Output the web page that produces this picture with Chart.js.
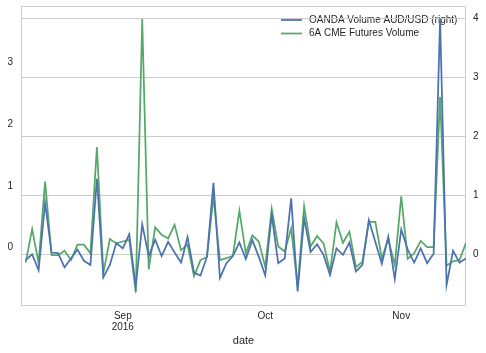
<!DOCTYPE html>
<html>
<head>
<meta charset="utf-8">
<script src="https://cdn.jsdelivr.net/npm/chart.js@4.4.0/dist/chart.umd.min.js"></script>
<style>
  html, body { margin: 0; padding: 0; background: #fff; }
  #wrap { width: 486px; height: 353px; }
</style>
</head>
<body>
<div id="wrap"><canvas id="volumeChart" width="486" height="353"></canvas></div>
<script>
// business days, Aug 11 - Nov 15 2016
const dates = [
    '2016-08-11', '2016-08-12', '2016-08-15', '2016-08-16', '2016-08-17', '2016-08-18', '2016-08-19',
    '2016-08-22', '2016-08-23', '2016-08-24', '2016-08-25', '2016-08-26', '2016-08-29', '2016-08-30', '2016-08-31',
    '2016-09-01', '2016-09-02', '2016-09-05', '2016-09-06', '2016-09-07', '2016-09-08', '2016-09-09',
    '2016-09-12', '2016-09-13', '2016-09-14', '2016-09-15', '2016-09-16', '2016-09-19', '2016-09-20',
    '2016-09-21', '2016-09-22', '2016-09-23', '2016-09-26', '2016-09-27', '2016-09-28', '2016-09-29', '2016-09-30',
    '2016-10-03', '2016-10-04', '2016-10-05', '2016-10-06', '2016-10-07', '2016-10-10', '2016-10-11',
    '2016-10-12', '2016-10-13', '2016-10-14', '2016-10-17', '2016-10-18', '2016-10-19', '2016-10-20',
    '2016-10-21', '2016-10-24', '2016-10-25', '2016-10-26', '2016-10-27', '2016-10-28', '2016-10-31',
    '2016-11-01', '2016-11-02', '2016-11-03', '2016-11-04', '2016-11-07', '2016-11-08', '2016-11-09',
    '2016-11-10', '2016-11-11', '2016-11-14', '2016-11-15'
];

// right axis
const oandaVolume = [
    -0.10, 0.00, -0.27, 0.87, 0.03, 0.02, -0.22, -0.07, 0.08, -0.11,
    -0.18, 1.28, -0.39, -0.18, 0.19, 0.10, 0.34, -0.55, 0.51, -0.03,
    0.25, -0.03, 0.21, 0.03, -0.14, 0.29, -0.31, -0.36, -0.04, 1.21,
    -0.40, -0.15, -0.03, 0.20, -0.08, 0.24, -0.04, -0.36, 0.67, -0.15,
    -0.07, 0.95, -0.63, 0.61, 0.04, 0.17, -0.01, -0.35, 0.10, -0.01,
    0.20, -0.29, -0.18, 0.58, 0.21, -0.16, 0.30, -0.42, 0.42, 0.08,
    -0.14, 0.10, -0.15, 0.01, 4.00, -0.52, 0.06, -0.14, -0.07
];

// left axis
const cmeVolume = [
    -0.24, 0.30, -0.25, 1.07, -0.12, -0.12, -0.05, -0.20, 0.05, 0.05,
    -0.09, 1.63, -0.41, 0.14, 0.07, 0.10, 0.13, -0.72, 3.70, -0.35,
    0.33, 0.21, 0.15, 0.37, -0.04, 0.05, -0.46, -0.20, -0.15, 0.83,
    -0.20, -0.17, -0.13, 0.60, -0.09, 0.20, 0.10, -0.31, 0.63, 0.02,
    -0.06, 0.31, -0.63, 0.67, 0.02, 0.19, 0.07, -0.39, 0.41, 0.08,
    0.26, -0.31, -0.23, 0.42, 0.42, -0.17, 0.14, -0.28, 0.83, -0.18,
    -0.09, 0.11, 0.01, 0.01, 2.44, -0.29, -0.22, -0.20, 0.08
];

const seriesNames = ['OANDA Volume AUD/USD (right)', '6A CME Futures Volume'];
const tickDates = ['2016-09-01', '2016-10-03', '2016-11-01'];
const tickLabels = [['Sep', '2016'], 'Oct', 'Nov'];
const leftTicks = [0, 1, 2, 3];
const rightTicks = [0, 1, 2, 3, 4];

const BLUE = '#4C72B0';
const GREEN = '#55A868';
const TEXT = '#262626';
const GRID = '#cccccc';
const FONT = '"Liberation Sans", Arial, sans-serif';

function toPoints(values) {
    return values.map((v, i) => ({ x: i, y: v }));
}

// legend sits under the grid and lines, like the twin axes in the original
const cornerLegend = {
    id: 'cornerLegend',
    beforeDraw(chart) {
        const ctx = chart.ctx;
        const right = chart.chartArea.right;
        ctx.save();
        ctx.font = '10px ' + FONT;
        ctx.textBaseline = 'middle';
        ctx.lineWidth = 1.75;
        chart.data.datasets.forEach((ds, i) => {
            const y = 20 + i * 13.5;
            ctx.strokeStyle = ds.borderColor;
            ctx.beginPath();
            ctx.moveTo(right - 185, y);
            ctx.lineTo(right - 164, y);
            ctx.stroke();
            ctx.fillStyle = TEXT;
            ctx.fillText(ds.label, right - 157, y);
        });
        ctx.restore();
    }
};

const frame = {
    id: 'frame',
    beforeDatasetsDraw(chart) {
        const { left, top, width, height } = chart.chartArea;
        const ctx = chart.ctx;
        ctx.save();
        ctx.strokeStyle = GRID;
        ctx.lineWidth = 1;
        ctx.strokeRect(Math.round(left) + 0.5, Math.round(top) + 0.5, Math.round(width) - 1, Math.round(height));
        ctx.restore();
    }
};

function fixVertical(width) {
    return scale => {
        scale.width = width;
        scale.paddingTop = 0;
        scale.paddingBottom = 0;
    };
}

const volumeChart = new Chart(document.getElementById('volumeChart').getContext('2d'), {
    type: 'line',
    data: {
        datasets: [{
            label: seriesNames[0],
            data: toPoints(oandaVolume),
            yAxisID: 'y1',
            borderColor: BLUE,
            borderWidth: 1.75,
            pointRadius: 0,
            tension: 0
        }, {
            label: seriesNames[1],
            data: toPoints(cmeVolume),
            yAxisID: 'y',
            borderColor: GREEN,
            borderWidth: 1.75,
            pointRadius: 0,
            tension: 0
        }]
    },
    options: {
        responsive: false,
        animation: false,
        devicePixelRatio: 1,
        layout: { padding: { top: 6, left: 0, right: 0, bottom: 0 } },
        plugins: {
            legend: { display: false },
            tooltip: { enabled: false }
        },
        scales: {
            x: {
                type: 'linear',
                min: -0.72,
                max: dates.length - 1,
                grid: { display: false, drawTicks: false },
                border: { display: false },
                afterBuildTicks: scale => {
                    scale.ticks = tickDates.map(d => ({ value: dates.indexOf(d) }));
                },
                afterFit: scale => {
                    scale.height = 48;
                    scale.paddingLeft = 0;
                    scale.paddingRight = 0;
                },
                ticks: {
                    autoSkip: false,
                    maxRotation: 0,
                    padding: 6,
                    color: TEXT,
                    font: { family: FONT, size: 10, lineHeight: 1.1 },
                    callback: (value, index) => tickLabels[index]
                },
                title: {
                    display: true,
                    text: 'date',
                    color: TEXT,
                    font: { family: FONT, size: 11 },
                    padding: { top: 0, bottom: 5 }
                }
            },
            y: {
                position: 'left',
                min: -0.927,
                max: 3.911,
                grid: { display: false, drawTicks: false },
                border: { display: false },
                afterBuildTicks: scale => {
                    scale.ticks = leftTicks.map(v => ({ value: v }));
                },
                afterFit: fixVertical(21),
                ticks: {
                    padding: 8,
                    color: TEXT,
                    font: { family: FONT, size: 10 }
                }
            },
            y1: {
                position: 'right',
                min: -0.859,
                max: 4.208,
                grid: { color: GRID, lineWidth: 1, drawTicks: false },
                border: { display: false },
                afterBuildTicks: scale => {
                    scale.ticks = rightTicks.map(v => ({ value: v }));
                },
                afterFit: fixVertical(20),
                ticks: {
                    padding: 7,
                    color: TEXT,
                    font: { family: FONT, size: 10 }
                }
            }
        }
    },
    plugins: [cornerLegend, frame]
});
</script>
</body>
</html>
